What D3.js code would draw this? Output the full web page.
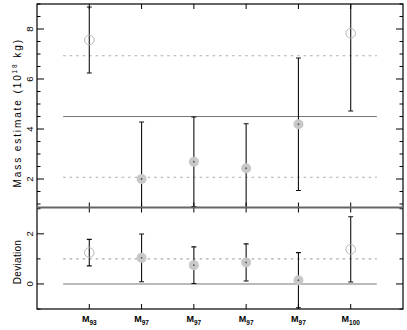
<!DOCTYPE html>
<html>
<head>
<meta charset="utf-8">
<script src="https://cdn.jsdelivr.net/npm/d3@7"></script>
<style>
  body { margin: 0; background: #fff; }
  text { font-family: "Liberation Sans", Arial, sans-serif; fill: #000; }
</style>
</head>
<body>
<script>
// category labels (subscript of M)
var subs = ["93", "97", "97", "97", "97", "100"];
// upper panel: mass estimate (10^18 kg)
var massVal = [7.56, 2.0, 2.69, 2.43, 4.19, 7.83];
var massErr = [1.32, 2.28, 1.79, 1.78, 2.65, 3.11];
// lower panel: deviation
var devVal = [1.25, 1.04, 0.75, 0.86, 0.15, 1.38];
var devErr = [0.53, 0.95, 0.73, 0.74, 1.10, 1.30];
// open (true) or filled marker
var openMark = [true, false, false, false, false, true];
// reference lines
var massMean = 4.5, massSd = 2.43;
var devZero = 0, devOne = 1;

var svgWidth = 407, svgHeight = 330;
// plot frame edges
var pLeft = 37, pRight = 403, pTop = 4, pMid = 207.5, pBottom = 309;

var svg = d3.select("body").append("svg")
  .attr("width", svgWidth)
  .attr("height", svgHeight);

var x = d3.scaleLinear().domain([0, 7]).range([pLeft, pRight]);
var yTop = d3.scaleLinear().domain([0.86, 9]).range([pMid, pTop]);
var yBot = d3.scaleLinear().domain([-1, 3.05]).range([pBottom, pMid]);

var idx = d3.range(subs.length);

var defs = svg.append("defs");
defs.append("clipPath").attr("id", "clipTop")
  .append("rect").attr("x", pLeft).attr("y", pTop).attr("width", pRight - pLeft).attr("height", pMid - pTop);
defs.append("clipPath").attr("id", "clipBot")
  .append("rect").attr("x", pLeft).attr("y", pMid).attr("width", pRight - pLeft).attr("height", pBottom - pMid);

function drawPanel(y, vals, errs, solidLines, dashLines, clipId, majorStep, minorStep) {
  var g = svg.append("g");

  // ticks on left and right, pointing inward
  var dom = y.domain();
  var minor = d3.range(Math.ceil(dom[0] / minorStep) * minorStep, dom[1] + 1e-9, minorStep);
  minor.forEach(function(v) {
    var isMajor = Math.abs(v / majorStep - Math.round(v / majorStep)) < 1e-6;
    var len = isMajor ? 7 : 3.5;
    g.append("line").attr("x1", pLeft).attr("x2", pLeft + len)
      .attr("y1", y(v)).attr("y2", y(v)).attr("stroke", "#000");
    g.append("line").attr("x1", pRight).attr("x2", pRight - len)
      .attr("y1", y(v)).attr("y2", y(v)).attr("stroke", "#000");
    if (isMajor) {
      g.append("text")
        .attr("transform", "translate(" + (pLeft - 4) + "," + y(v) + ") rotate(-90)")
        .attr("text-anchor", "middle")
        .attr("font-size", "9.5px")
        .text(d3.format("d")(v));
    }
  });

  var c = g.append("g").attr("clip-path", "url(#" + clipId + ")");

  solidLines.forEach(function(v) {
    c.append("line").attr("x1", x(0.5)).attr("x2", x(6.5))
      .attr("y1", y(v)).attr("y2", y(v))
      .attr("stroke", "#777").attr("stroke-width", 1.1);
  });
  dashLines.forEach(function(v) {
    c.append("line").attr("x1", x(0.5)).attr("x2", x(6.5))
      .attr("y1", y(v)).attr("y2", y(v))
      .attr("stroke", "#aaa").attr("stroke-width", 1.1)
      .attr("stroke-dasharray", "2.5,4");
  });

  // error bars
  idx.forEach(function(i) {
    var cx = x(i + 1);
    var lo = y(vals[i] - errs[i]), hi = y(vals[i] + errs[i]);
    c.append("line").attr("x1", cx).attr("x2", cx).attr("y1", lo).attr("y2", hi)
      .attr("stroke", "#111").attr("stroke-width", 1.1);
    [lo, hi].forEach(function(yy) {
      c.append("line").attr("x1", cx - 2.5).attr("x2", cx + 2.5).attr("y1", yy).attr("y2", yy)
        .attr("stroke", "#111").attr("stroke-width", 1.1);
    });
  });

  // markers
  idx.forEach(function(i) {
    var cx = x(i + 1), cy = y(vals[i]);
    if (openMark[i]) {
      c.append("circle").attr("cx", cx).attr("cy", cy).attr("r", 4.8)
        .attr("fill", "none").attr("stroke", "#b8b8b8").attr("stroke-width", 1);
    } else {
      c.append("circle").attr("cx", cx).attr("cy", cy).attr("r", 5)
        .attr("fill", "#c8c8c8");
      c.append("circle").attr("cx", cx).attr("cy", cy).attr("r", 0.9)
        .attr("fill", "#555");
    }
  });
}

drawPanel(yTop, massVal, massErr, [massMean], [massMean + massSd, massMean - massSd], "clipTop", 2, 0.5);
drawPanel(yBot, devVal, devErr, [devZero], [devOne], "clipBot", 2, 1);

// x ticks
idx.forEach(function(i) {
  var cx = x(i + 1);
  svg.append("line").attr("x1", cx).attr("x2", cx).attr("y1", pTop).attr("y2", pTop + 5).attr("stroke", "#000");
  svg.append("line").attr("x1", cx).attr("x2", cx).attr("y1", pMid - 5).attr("y2", pMid + 5).attr("stroke", "#000");
  svg.append("line").attr("x1", cx).attr("x2", cx).attr("y1", pBottom).attr("y2", pBottom - 5).attr("stroke", "#000");

  var t = svg.append("text")
    .attr("x", cx).attr("y", 322)
    .attr("text-anchor", "middle")
    .attr("font-size", "9px")
    .attr("font-weight", "bold");
  t.append("tspan").text("M");
  t.append("tspan").attr("font-size", "6.5px").attr("dy", 2.5).text(subs[i]);
});

// frame
svg.append("rect").attr("x", pLeft).attr("y", pTop)
  .attr("width", pRight - pLeft).attr("height", pBottom - pTop)
  .attr("fill", "none").attr("stroke", "#000").attr("stroke-width", 1.2);
svg.append("line").attr("x1", pLeft).attr("x2", pRight).attr("y1", pMid).attr("y2", pMid)
  .attr("stroke", "#666").attr("stroke-width", 2);

// axis titles
var yt = svg.append("text")
  .attr("transform", "translate(21," + ((pTop + pMid) / 2 + 7) + ") rotate(-90)")
  .attr("text-anchor", "middle")
  .attr("font-size", "10px")
  .attr("letter-spacing", "1.9px");
yt.append("tspan").text("Mass estimate (10");
yt.append("tspan").attr("font-size", "6.5px").attr("dy", -4).text("18");
yt.append("tspan").attr("dy", 4).text(" kg)");

svg.append("text")
  .attr("transform", "translate(21,262) rotate(-90)")
  .attr("text-anchor", "middle")
  .attr("font-size", "10px")
  .attr("letter-spacing", "0.3px")
  .text("Deviation");
</script>
</body>
</html>
